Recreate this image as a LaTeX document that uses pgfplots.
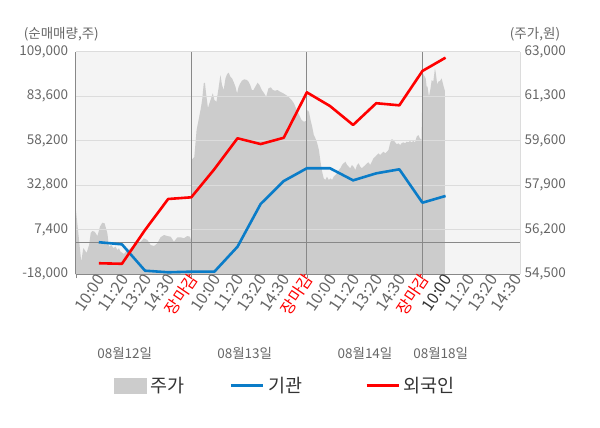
\documentclass[border=0pt]{standalone}
\usepackage{fontspec}
\setmainfont{Noto Sans CJK KR}
\usepackage{pgfplots}
\pgfplotsset{compat=1.18}
\usepackage{pgfplotstable}
\definecolor{bgcol}{HTML}{F4F4F4}
\definecolor{areagray}{HTML}{CCCCCC}
\definecolor{gridcol}{HTML}{DCDCDC}
\definecolor{daycol}{HTML}{888888}
\definecolor{labcol}{HTML}{666666}
\definecolor{txtdark}{HTML}{333333}
\definecolor{bluecol}{HTML}{0A7CC8}
\definecolor{redcol}{HTML}{FF0000}

\pgfplotstableread{
x price
0.00 57031
0.10 56191
0.24 54981
0.33 55504
0.39 55428
0.47 55313
0.58 55619
0.65 56077
0.72 56153
0.82 56126
0.94 55962
1.05 56317
1.15 56470
1.25 56447
1.37 56065
1.44 55554
1.54 55619
1.63 55504
1.73 55554
1.80 55428
1.87 55493
1.94 55363
2.09 55275
2.23 55428
2.38 55493
2.52 55619
2.67 55684
2.81 55745
2.95 55874
3.10 55810
3.24 55619
3.39 55580
3.53 55684
3.67 55913
3.82 56000
3.96 55962
4.11 55936
4.25 55745
4.40 55913
4.54 55913
4.68 55874
4.83 55962
4.94 55936
4.99 55810
5.00 58864
5.13 58979
5.23 60009
5.30 60326
5.40 60773
5.47 61155
5.54 61792
5.59 61815
5.64 61411
5.72 60849
5.79 61040
5.86 61231
5.93 61411
6.00 61155
6.09 61090
6.19 61663
6.26 62109
6.33 61728
6.40 61537
6.48 61983
6.55 62147
6.62 62197
6.69 62044
6.76 61983
6.83 61853
6.91 61663
6.98 61411
7.05 61663
7.12 61792
7.19 61892
7.29 61945
7.41 61918
7.48 61853
7.55 61728
7.62 61537
7.69 61537
7.77 61663
7.87 61815
7.95 61728
8.05 61537
8.15 61411
8.24 61281
8.34 61601
8.44 61640
8.53 61537
8.63 61510
8.73 61537
8.84 61472
8.98 61411
9.10 61346
9.20 61281
9.34 61155
9.44 61029
9.56 60773
9.67 60582
9.77 60391
9.87 60326
9.99 60364
10.02 60773
10.09 60708
10.16 60391
10.23 60135
10.30 59818
10.37 59692
10.45 59502
10.52 59246
10.59 58799
10.66 58417
10.73 58165
10.80 58100
10.87 58226
10.95 58100
11.02 58165
11.09 58100
11.16 58226
11.23 58291
11.31 58356
11.38 58482
11.45 58547
11.52 58673
11.59 58738
11.67 58799
11.74 58673
11.81 58608
11.88 58547
11.95 58673
12.02 58608
12.10 58482
12.17 58673
12.24 58738
12.31 58608
12.38 58547
12.45 58608
12.53 58673
12.60 58738
12.67 58776
12.74 58673
12.81 58799
12.88 58929
12.96 58990
13.03 59055
13.10 59120
13.17 59055
13.24 59120
13.31 59181
13.39 59120
13.46 59181
13.53 59246
13.60 59502
13.67 59666
13.74 59628
13.82 59540
13.89 59463
13.96 59502
14.03 59437
14.10 59502
14.17 59540
14.25 59502
14.32 59563
14.39 59540
14.46 59589
14.53 59540
14.60 59589
14.68 59540
14.75 59754
14.82 59818
14.89 59692
14.96 59628
15.01 62174
15.06 62109
15.14 61983
15.18 61663
15.22 61663
15.28 61281
15.35 61601
15.40 61918
15.47 61853
15.54 62365
15.58 62174
15.64 61728
15.68 61853
15.76 61880
15.83 61983
15.90 61728
15.94 61601
15.97 61510
}\pricetable

\pgfplotstableread{
x inst frgn
1 300 -11700
2 -900 -12000
3 -15950 7300
4 -16850 24960
5 -16500 25930
6 -16500 42000
7 -2250 59600
8 22100 56300
9 35200 59900
10 42500 85800
11 42500 78000
12 35600 67200
13 39600 79600
14 41900 78400
15 22850 98000
16 26700 105600
}\flowtable

\begin{document}
\begin{tikzpicture}[x=1pt,y=1pt]
\useasboundingbox (0,0) rectangle (600,428);
% price axis (right)
\begin{axis}[
  at={(75.7pt,153.7pt)}, anchor=south west,
  scale only axis, width=444.3pt, height=222.6pt,
  xmin=0, xmax=19.22, ymin=54500, ymax=63000,
  scaled y ticks=false, scaled x ticks=false,
  axis background/.style={fill=bgcol},
  axis x line=none,
  axis y line*=right,
  axis line style={draw=gridcol,-},
  ytick={54500,56200,57900,59600,61300,63000},
  yticklabels={{54,500},{56,200},{57,900},{59,600},{61,300},{63,000}},
  yticklabel style={font=\fontsize{13.5}{16}\selectfont, text=labcol, anchor=west, xshift=1pt},
  major tick length=0pt,
  clip=true,
]
\addplot[fill=areagray, draw=none] table[x=x,y=price] {\pricetable} \closedcycle;
\end{axis}
% flow axis (left)
\begin{axis}[
  at={(75.7pt,153.7pt)}, anchor=south west,
  scale only axis, width=444.3pt, height=222.6pt,
  xmin=0, xmax=19.22, ymin=-18000, ymax=109000,
  scaled y ticks=false, scaled x ticks=false,
  axis y line*=left, axis x line*=bottom,
  axis line style={draw=daycol,-},
  ytick={-18000,7400,32800,58200,83600,109000},
  yticklabels={{-18,000},{7,400},{32,800},{58,200},{83,600},{109,000}},
  yticklabel style={font=\fontsize{13.5}{16}\selectfont, text=labcol, anchor=east, xshift=-4pt},
  ymajorgrids, major grid style={draw=gridcol, line width=0.8pt},
  major tick length=0pt,
  xtick={1,...,19},
  xticklabels={10:00,11:20,13:20,14:30,\textcolor{redcol}{장마감},
               10:00,11:20,13:20,14:30,\textcolor{redcol}{장마감},
               10:00,11:20,13:20,14:30,\textcolor{redcol}{장마감},
               \textcolor{txtdark}{10:00},11:20,13:20,14:30},
  xticklabel style={font=\fontsize{16}{18}\selectfont, text=labcol, rotate=56, anchor=east, yshift=-3pt, xshift=1pt, inner sep=1pt},
  extra x ticks={0,5,10,15},
  extra x tick labels={},
  extra x tick style={xmajorgrids, major grid style={draw=daycol, line width=0.8pt}, major tick length=4pt, tick align=outside, tick style={draw=daycol}},
  extra y ticks={0},
  extra y tick labels={},
  extra y tick style={ymajorgrids, major grid style={draw=daycol, line width=0.8pt}},
  legend columns=3,
  legend style={draw=none, fill=none, at={(0.0862,-0.4995)}, anchor=west, inner sep=0pt,
    font=\fontsize{18.5}{20}\selectfont, text=txtdark,
    /tikz/column 1/.style={column sep=2pt},
    /tikz/column 2/.style={column sep=43pt},
    /tikz/column 3/.style={column sep=2pt},
    /tikz/column 4/.style={column sep=61pt},
    /tikz/column 5/.style={column sep=2pt}},
  legend image code/.code={\draw[#1] (0pt,0pt) -- (32pt,0pt);},
]
\addlegendimage{legend image code/.code={\fill[areagray] (0pt,-7.5pt) rectangle (32pt,7.5pt);}}
\addlegendentry{주가}
\addplot[draw=bluecol, line width=2.6pt, line join=round] table[x=x,y=inst] {\flowtable};
\addlegendentry{기관}
\addplot[draw=redcol, line width=2.6pt, line join=round] table[x=x,y=frgn] {\flowtable};
\addlegendentry{외국인}
\end{axis}
\begin{scope}[every node/.style={font=\fontsize{13.5}{16}\selectfont, text=labcol}]
\node at (61.3,394) {(순매매량,주)};
\node at (535,394) {(주가,원)};
\node at (124.7,74.7) {08월12일};
\node at (244.7,74.7) {08월13일};
\node at (365,74.7) {08월14일};
\node at (440.7,74.7) {08월18일};
\end{scope}
\end{tikzpicture}
\end{document}
